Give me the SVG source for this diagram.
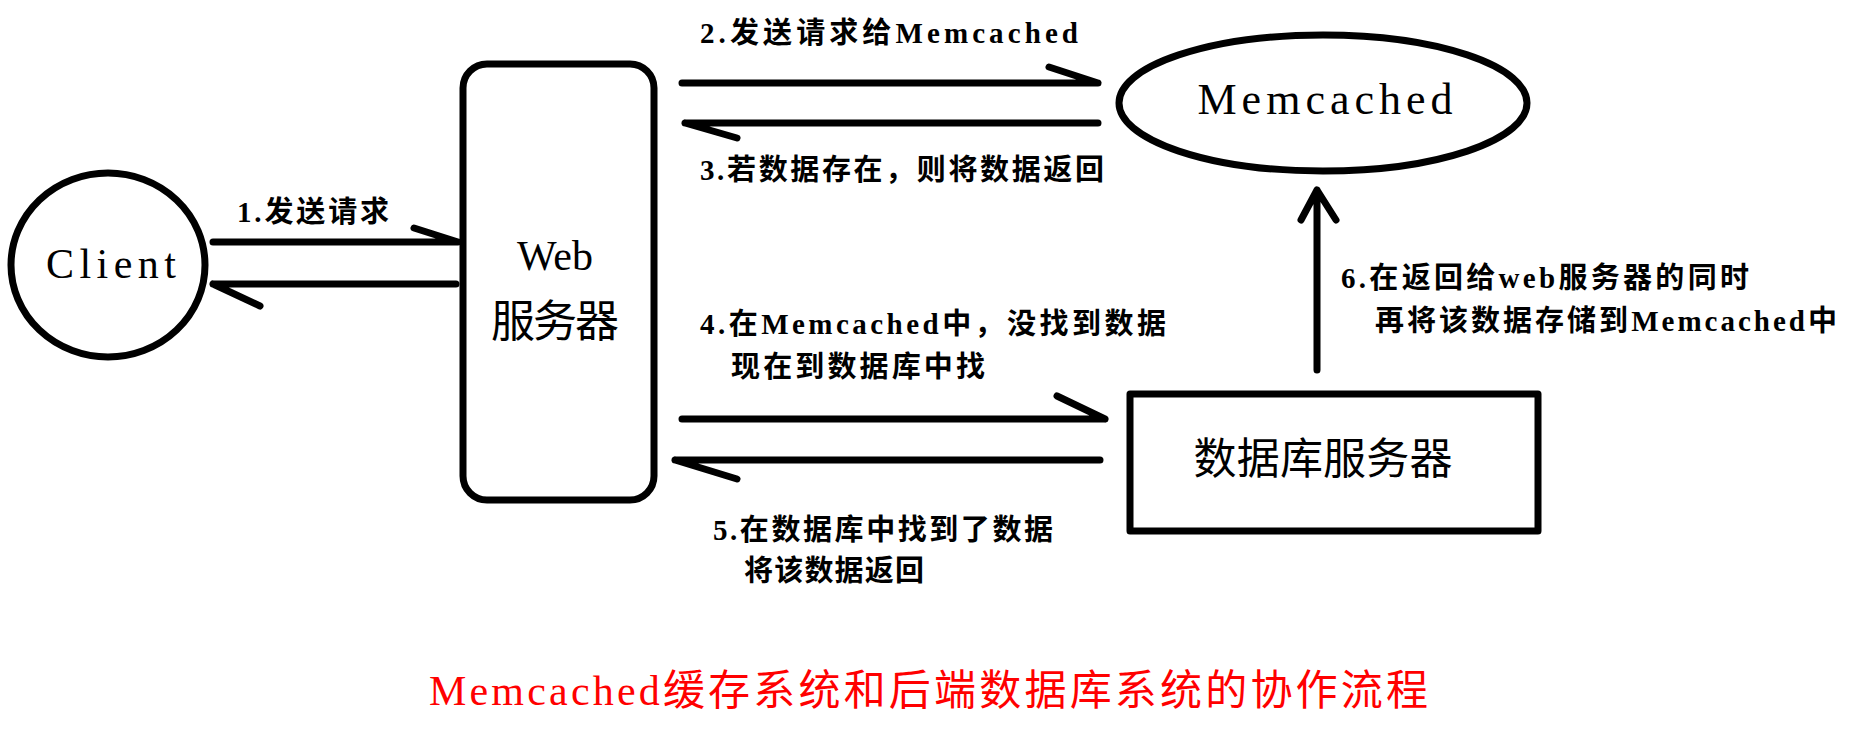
<svg xmlns="http://www.w3.org/2000/svg" width="1856" height="730" viewBox="0 0 1856 730">
<style>
.ln{stroke:#000;stroke-width:7;fill:none;stroke-linecap:round;stroke-linejoin:round}
.t{font-family:"Liberation Serif","Noto Sans CJK SC",serif;font-weight:bold;fill:#000}
.n{font-family:"Liberation Serif","Noto Sans CJK SC",serif;font-weight:normal;fill:#000}
.s{font-size:29px}
</style>
<rect width="1856" height="730" fill="#fff"/>
<g id="client"><ellipse class="ln" cx="108" cy="265" rx="97" ry="92"/><text class="n" x="111" y="278" font-size="42" text-anchor="middle" textLength="130">Client</text></g>
<g id="web"><rect class="ln" x="463" y="64" width="191" height="436" rx="24"/><text class="n" x="555" y="270" font-size="42" text-anchor="middle">Web</text><text class="n" x="555" y="337" font-size="44" text-anchor="middle" textLength="128">服务器</text></g>
<g id="memcached"><ellipse class="ln" cx="1323" cy="103" rx="204" ry="68"/><text class="n" x="1325" y="114" font-size="44" text-anchor="middle" textLength="255">Memcached</text></g>
<g id="db"><rect class="ln" x="1130" y="394" width="408" height="137" stroke-linecap="butt" stroke-linejoin="miter"/><text class="n" x="1323" y="474" font-size="43" text-anchor="middle" textLength="259">数据库服务器</text></g>
<g id="connectors">
<path class="ln" d="M213 242H458M414 228L458 242"/>
<path class="ln" d="M456 284H213M213 284L260 306"/>
<path class="ln" d="M682 83H1098M1049 67L1098 83"/>
<path class="ln" d="M1098 123H685M685 123L737 138"/>
<path class="ln" d="M682 419H1105M1057 396L1105 419"/>
<path class="ln" d="M1100 460H675M675 460L737 479"/>
<path class="ln" d="M1317 370V190M1301 220L1317 190L1336 220"/>
</g>
<g id="labels">
<text class="t s" x="700" y="43" textLength="378">2.发送请求给Memcached</text>
<text class="t s" x="700" y="180" textLength="404">3.若数据存在，则将数据返回</text>
<text class="t s" x="237" y="222" textLength="152">1.发送请求</text>
<text class="t s" x="700" y="334" textLength="466">4.在Memcached中，没找到数据</text>
<text class="t s" x="731" y="377" textLength="254">现在到数据库中找</text>
<text class="t s" x="713" y="540" textLength="340">5.在数据库中找到了数据</text>
<text class="t s" x="744" y="581" textLength="180">将该数据返回</text>
<text class="t s" x="1341" y="288" textLength="408">6.在返回给web服务器的同时</text>
<text class="t s" x="1375" y="331" textLength="462">再将该数据存储到Memcached中</text>
</g>
<text x="429" y="705" font-family="Liberation Serif,Noto Sans CJK SC,serif" font-size="42" fill="#f00" textLength="999">Memcached缓存系统和后端数据库系统的协作流程</text>
</svg>
